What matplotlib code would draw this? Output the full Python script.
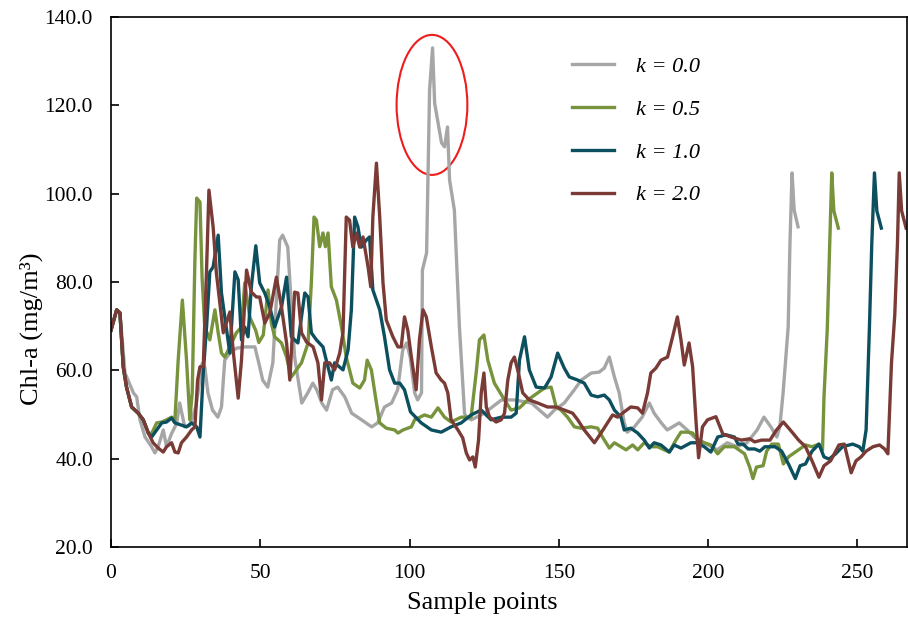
import matplotlib
matplotlib.use("Agg")
import matplotlib.pyplot as plt
from matplotlib.patches import Ellipse

plt.rcParams['font.family'] = ['Liberation Serif', 'DejaVu Serif']

# ---------------- data ----------------
start_x = [0, 1.9, 3, 4.1, 5.2, 6.9, 9.1, 10.8, 12.5]
start_y = [69.1, 73.7, 73.0, 60.8, 56.2, 51.7, 50.3, 48.8, 45.8]

k00_x = [0, 1.9, 3, 4.7, 7.5, 8.6, 9.7, 11.4, 13.6, 14.7, 15.8, 17.5, 18.6, 20.3, 22, 23, 24.7, 26.4,
         28.5, 30.5, 31.4, 32.5, 34, 35.8, 37, 38.1, 39.8, 42, 44.8, 48.2, 49.8, 50.8, 52.5, 54.2,
         56.5, 57.5, 59.2, 60.5, 61.5, 63.9, 65.9, 67.6, 68.9, 70.6, 72.2, 74.2, 75.9, 78.3, 80.6,
         83.9, 87.3, 89.3, 91.6, 94, 96, 97.7, 99, 100.2, 101.7, 102.7, 104, 104.3, 105.7, 106.7,
         107.7, 108.4, 110.7, 111.7, 112.7, 113.4, 115, 116.7, 118.4, 119, 120.7, 125, 130.8, 135.1,
         140.8, 146.2, 148.5, 151.8, 155.2, 157.5, 160.9, 163.5, 165.2, 166.9, 168.6, 170.2, 171.9,
         172.9, 175.3, 177.9, 180.3, 181.9, 184.3, 186.3, 190.3, 193, 195.3, 198.7, 203, 206.4,
         209.7, 213, 216.4, 218.7, 221, 223, 224, 225.1, 226.8, 227.4, 228.1, 228.8, 230.1]
k00_y = [69.1, 73.7, 73.0, 59.4, 54.9, 54.0, 48.8, 44.9, 42.7, 41.3, 42.7, 46.5, 42.7, 45.7, 48.0, 52.6,
         47.2, 47.5, 52.0, 61.5, 60.8, 54.8, 51.0, 49.4, 51.7, 62.3, 63.9, 65.0, 65.3, 65.3, 60.8,
         57.8, 56.2, 61.7, 89.5, 90.6, 87.9, 73.7, 63.0, 52.6, 54.9, 57.1, 55.6, 52.6, 51.0, 55.6,
         56.2, 54.0, 50.3, 48.8, 47.2, 48.1, 51.7, 52.6, 55.6, 64.6, 66.2, 63.0, 54.9, 53.3, 54.9,
         82.7, 86.6, 123.5, 133.0, 120.5, 111.5, 110.6, 115.1, 103.1, 96.3, 69.8, 50.3, 49.4, 48.8,
         50.3, 53.3, 53.3, 52.6, 49.4, 51.0, 52.6, 55.6, 57.8, 59.4, 59.6, 60.5, 63.0, 58.5, 54.9,
         48.1, 46.0, 47.2, 49.4, 52.6, 50.3, 48.1, 46.5, 48.1, 46.5, 44.9, 43.6, 42.0, 43.6, 42.7,
         43.6, 46.5, 49.4, 47.2, 44.9, 47.2, 54.9, 69.8, 88.8, 104.7, 96.3, 92.5]

k05_x = start_x + [13.6, 15.3, 17, 18.6, 20.3, 21.4, 22.5, 23.9, 25.3, 26.4, 27.2, 28.1, 28.7, 29.8,
         30.5, 31.4, 33.1, 34.8, 35.9, 37, 38.1, 39.8, 42, 43.7, 44.8, 46.5, 48.5, 49.5, 51, 52.6,
         53.7, 54.8, 57.1, 58.8, 60.4, 62.1, 63.8, 66, 67.1, 68, 68.8, 69.9, 71, 71.8, 72.7, 73.8,
         75.5, 77.2, 78.8, 81, 83.3, 84.9, 85.8, 87.2, 88.9, 90, 92.2, 95, 96.1, 97.8, 100.6, 101.7,
         105, 107.3, 109.5, 111.7, 113.9, 117.3, 120.6, 122.3, 123.4, 124.9, 126.2, 128.4, 131.8,
         134, 136.8, 139.6, 142.9, 145.2, 147.4, 149.1, 150.7, 152.9, 155.2, 157.4, 160.8, 163,
         164.6, 166.9, 168.6, 170.8, 172.5, 174.7, 176.4, 178.6, 180.8, 183.1, 185.3, 187, 189.2,
         190.9, 193.1, 194.8, 196.4, 198.7, 200.9, 203.2, 205.4, 208.8, 212.2, 213.9, 215, 216.2,
         218.4, 219.6, 221.3, 223.5, 225.2, 226.9, 230.3, 232.6, 234.8, 237.1, 238.3, 238.8, 239.9,
         240.7, 241.4, 242.1, 243.6]
k05_y = start_y + [45.7, 48.1, 48.3, 48.8, 49.4, 48.8, 62.3, 75.9, 62.3, 48.8, 54.9, 85.0, 99.0, 98.1,
         81.1, 69.8, 66.9, 73.7, 68.5, 63.9, 63.0, 65.3, 68.5, 69.8, 79.8, 72.0, 69.0, 66.3, 68.0,
         78.2, 70.7, 67.6, 66.2, 63.0, 58.5, 60.1, 61.7, 66.2, 79.8, 94.7, 94.0, 88.0, 91.1, 88.0,
         91.1, 78.9, 75.9, 69.8, 63.0, 57.1, 56.0, 57.8, 62.3, 60.1, 52.6, 48.1, 46.9, 46.5, 45.8,
         46.5, 47.2, 48.8, 49.9, 49.4, 51.5, 49.4, 48.3, 49.4, 49.4, 59.4, 66.9, 68.0, 62.3, 57.1,
         53.3, 51.0, 51.5, 53.3, 54.9, 56.0, 56.2, 51.7, 51.0, 49.4, 47.2, 46.9, 47.2, 46.9, 44.9,
         42.4, 43.6, 42.7, 42.0, 43.1, 42.0, 43.6, 42.7, 42.7, 42.0, 41.5, 44.2, 46.0, 46.0, 45.8,
         44.2, 43.6, 43.1, 41.1, 42.7, 42.7, 41.1, 38.1, 35.5, 38.1, 38.4, 41.7, 43.3, 43.3, 38.8,
         40.4, 42.0, 43.1, 42.7, 43.3, 42.0, 54.0, 69.4, 88.6, 104.7, 96.1, 92.2]

k10_x = start_x + [13.6, 15.3, 17, 18.6, 20.3, 21.4, 23.6, 25.3, 27, 28.7, 29.8, 30.9, 32, 33.1, 34.2,
         35.9, 37, 38.1, 39.8, 41.5, 42.6, 43.7, 44.8, 45.9, 47, 48.5, 49.8, 51.5, 53.2, 54.8, 57.1,
         58.8, 60.4, 62.6, 64.9, 66, 67.1, 68.8, 71, 72.1, 73.8, 74.9, 77.7, 79.4, 80.5, 81.6, 82.7,
         83.8, 85.5, 86.6, 87.7, 90, 91.6, 93.3, 95, 96.7, 98.3, 100.3, 103.9, 107.3, 110.6, 113.9,
         117.3, 120.6, 124, 127.3, 130.7, 134, 135.7, 136.8, 138.5, 140.1, 142.4, 145.2, 147.4,
         149.6, 151.8, 153.5, 156.3, 158.5, 160.8, 163, 165.2, 166.9, 168.6, 170.8, 171.9, 174.1,
         176.4, 178.6, 180.3, 181.9, 184.2, 187, 188.6, 190.9, 194.2, 196.4, 198.7, 200.9, 203.2,
         206, 208.8, 210, 211.7, 213.4, 215.6, 217.3, 219, 222.4, 224.6, 226.9, 229.2, 230.8, 232.6,
         234.8, 237.1, 238.8, 240.5, 242.7, 245, 248.4, 250.6, 251.8, 252.9, 254, 254.8, 255.7,
         256.5, 258]
k10_y = start_y + [44.9, 46.5, 48.1, 48.3, 49.2, 48.1, 47.6, 47.2, 48.1, 47.2, 44.9, 59.4, 69.8, 82.3,
         83.4, 90.6, 77.5, 72.1, 63.9, 82.3, 80.5, 66.9, 69.8, 67.6, 78.9, 88.2, 79.8, 77.5, 74.3,
         69.8, 74.3, 81.1, 67.6, 66.2, 77.5, 76.6, 68.5, 66.9, 65.3, 62.3, 57.8, 61.7, 60.1, 64.6,
         73.7, 94.7, 92.5, 87.9, 89.5, 90.2, 78.2, 73.7, 67.6, 60.1, 57.1, 57.1, 55.6, 50.6, 48.1,
         46.5, 46.0, 47.2, 48.1, 49.9, 51.0, 48.8, 49.4, 49.4, 50.3, 62.3, 67.6, 60.1, 56.2, 56.0,
         58.5, 63.9, 60.5, 58.5, 57.8, 57.1, 54.4, 54.0, 54.4, 53.3, 51.0, 49.4, 46.5, 46.9, 45.8,
         44.2, 42.4, 43.6, 43.1, 41.5, 43.1, 42.4, 43.6, 43.6, 42.7, 41.5, 44.9, 45.4, 44.9, 43.3,
         43.3, 42.2, 42.2, 41.7, 42.7, 42.7, 41.7, 38.8, 35.5, 38.4, 38.8, 41.7, 43.3, 40.4, 39.9,
         41.1, 42.7, 43.3, 42.7, 41.7, 46.5, 69.4, 88.6, 104.7, 96.1, 92.2]

k20_x = start_x + [14.1, 15.8, 17.5, 18.6, 20.3, 21.4, 22.5, 23.6, 25.3, 27, 28.1, 29, 29.8, 30.9, 32,
         32.8, 34.2, 35.3, 37.6, 39.8, 40.9, 42.6, 43.7, 45.4, 47, 48.7, 49.8, 51.5, 53.2, 55.4,
         57.1, 58.8, 59.9, 61.5, 62.6, 63.8, 65.5, 67.7, 69.3, 70.5, 71.6, 73.2, 74.9, 76.6, 77.7,
         78.8, 79.9, 81, 82.2, 83.3, 84.4, 86.1, 87, 87.7, 88.9, 90, 91.1, 92.2, 94.4, 96.1, 97.2,
         98.3, 99.4, 100.6, 102.2, 103.3, 104.5, 105.6, 107.3, 108.9, 110.6, 111.7, 112.8, 113.9,
         116.2, 117.8, 119, 120.1, 121.2, 122, 123.1, 124, 124.9, 125.7, 126.8, 129, 130.7, 131.8,
         132.9, 134, 135.1, 136.2, 137.9, 140.1, 142.9, 146.2, 149.1, 151.8, 154.6, 156.3, 158.5,
         161.9, 164.1, 166.3, 168, 169.7, 171.9, 174.1, 176.4, 178, 179.7, 180.8, 182.5, 184.2,
         186.4, 188.1, 189.7, 190.9, 192, 193.6, 194.8, 195.9, 196.8, 198.1, 199.8, 202.6, 204.9,
         207.7, 211.1, 213.9, 215.6, 217.9, 220.7, 222.9, 225.2, 227.5, 230.3, 232.6, 234.8, 237.1,
         238.8, 241, 243.8, 245.6, 247.9, 249.5, 251.2, 252.9, 255.2, 257.4, 259.1, 260.2, 261.4,
         262.5, 263.4, 264, 264.8, 266.3]
k20_y = start_y + [43.6, 42.4, 41.5, 42.7, 43.6, 41.5, 41.3, 43.6, 44.9, 46.5, 47.2, 57.8, 60.8, 60.8,
         82.7, 100.8, 92.5, 82.0, 68.5, 73.2, 64.6, 53.7, 62.3, 82.7, 77.7, 76.6, 76.6, 70.7, 73.0,
         81.1, 74.3, 66.2, 57.8, 77.7, 77.5, 68.5, 66.4, 65.3, 61.7, 53.3, 61.7, 61.7, 60.1, 63.9,
         68.5, 94.7, 94.0, 87.9, 91.1, 87.9, 90.2, 83.4, 78.9, 94.7, 106.9, 94.7, 79.8, 71.4, 67.6,
         65.3, 65.3, 72.1, 69.1, 63.0, 55.6, 66.9, 73.7, 72.1, 65.3, 59.4, 57.8, 57.1, 54.9, 48.8,
         46.5, 44.7, 41.3, 39.7, 40.4, 38.1, 44.2, 54.9, 59.4, 51.7, 49.4, 48.3, 48.8, 50.3, 57.8,
         61.7, 63.0, 60.1, 54.9, 53.3, 52.6, 51.7, 51.7, 51.0, 50.3, 48.8, 46.5, 43.6, 45.8, 48.1,
         49.9, 49.4, 50.6, 51.7, 51.5, 50.3, 54.9, 59.4, 60.5, 62.3, 63.0, 67.6, 72.1, 66.9, 61.2,
         66.2, 60.8, 48.8, 40.2, 47.2, 48.8, 49.5, 45.6, 44.9, 44.2, 44.5, 43.8, 44.2, 44.2, 46.5,
         48.3, 46.5, 44.2, 42.7, 39.5, 35.8, 38.4, 39.5, 43.1, 43.3, 36.8, 39.5, 40.4, 41.7, 42.7,
         43.1, 42.2, 41.1, 61.7, 72.5, 88.6, 104.7, 96.1, 92.2]

labels = ['k = 0.0', 'k = 0.5', 'k = 1.0', 'k = 2.0']
colors = ['#A6A6A6', '#77933C', '#0C4F5F', '#7A3A35']

y_ticks = [20, 40, 60, 80, 100, 120, 140]
x_ticks = [0, 50, 100, 150, 200, 250]

# ---------------- figure ----------------
fig = plt.figure(figsize=(9.08, 6.17), dpi=100)
ax = fig.add_axes([111/908, 70/617, 796/908, 530/617])

series = [(k00_x, k00_y), (k05_x, k05_y), (k10_x, k10_y), (k20_x, k20_y)]
for (xs, ys), lab, c in zip(series, labels, colors):
    ax.plot(xs, ys, color=c, lw=2.4, label=lab, solid_joinstyle='round')

ax.add_patch(Ellipse((107.5, 120.1), 23.7, 31.7, fill=False, edgecolor='#EE1C1C', lw=1.5))

ax.set_xlim(0, 266.6)
ax.set_ylim(20, 140)
ax.set_yticks(y_ticks)
ax.set_yticklabels([f'{v:.1f}' for v in y_ticks])
ax.set_xticks(x_ticks)
ax.tick_params(axis='both', direction='in', length=6, width=1.2, labelsize=15.5)
ax.tick_params(axis='y', pad=13)
ax.tick_params(axis='x', pad=12)
for s in ax.spines.values():
    s.set_linewidth(1.2)

ax.set_xlabel('Sample points', fontsize=19)
ax.set_ylabel('Chl-a (mg/m³)', fontsize=19)
ax.xaxis.set_label_coords(0.467, -0.085)
ax.yaxis.set_label_coords(-0.086, 0.411)

leg = ax.legend(loc='center left', bbox_to_anchor=(572/908, 1 - 131/617),
                bbox_transform=fig.transFigure, frameon=False, borderpad=0,
                borderaxespad=0, handlelength=1.9, handletextpad=1.0,
                labelspacing=1.0, prop={'style': 'italic', 'size': 16})

fig.savefig('out.png', dpi=100)
